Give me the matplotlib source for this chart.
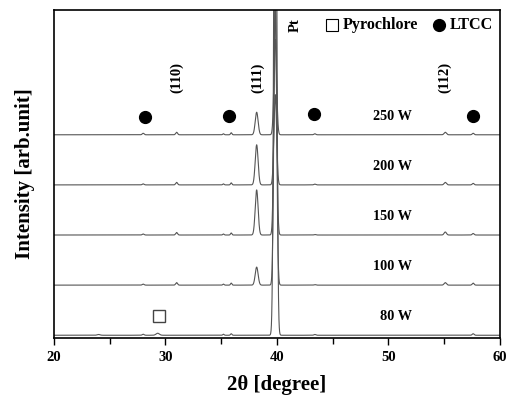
import numpy as np
import matplotlib
matplotlib.use("Agg")
import matplotlib.pyplot as plt
from matplotlib.ticker import MultipleLocator

plt.rcParams['font.family'] = ['Liberation Serif', 'DejaVu Serif']
plt.rcParams['font.weight'] = 'bold'

# ---- data ----
samples = ['80 W', '100 W', '150 W', '200 W', '250 W']
offsets = [0, 1, 2, 3, 4]
pt_pos = 39.85
pt_height = [14.0, 6.0, 4.5, 1.8, 1.9]
p111_pos = 38.18
p111_height = [0.0, 0.36, 0.9, 0.8, 0.45]
minor_pos = [24.0, 28.0, 29.3, 31.0, 35.2, 35.9, 43.4, 55.1, 57.6]
minor_height = [
    [0.015, 0.02, 0.04, 0.00, 0.02, 0.03, 0.015, 0.00, 0.03],
    [0.00, 0.02, 0.00, 0.05, 0.02, 0.04, 0.010, 0.05, 0.04],
    [0.00, 0.02, 0.00, 0.05, 0.02, 0.04, 0.010, 0.06, 0.03],
    [0.00, 0.02, 0.00, 0.05, 0.02, 0.04, 0.015, 0.05, 0.03],
    [0.00, 0.03, 0.00, 0.05, 0.02, 0.04, 0.020, 0.05, 0.03],
]
minor_width = [0.3, 0.2, 0.35, 0.2, 0.15, 0.15, 0.2, 0.25, 0.2]
ltcc_x = [28.2, 35.7, 43.35, 57.55]
ltcc_y = [4.35, 4.37, 4.41, 4.37]
pyro_x = [29.4]
pyro_y = [0.39]
hkl_labels = ['(110)', '(111)', '(112)']
hkl_x = [31.0, 38.25, 55.0]

twotheta = np.linspace(20, 60, 4001)


def gauss(x, c, h, s):
    return h * np.exp(-0.5 * ((x - c) / s) ** 2)


fig = plt.figure(figsize=(5.07, 3.95), dpi=100)
ax = fig.add_axes([0.1065, 0.1443, 0.8795, 0.8304])

for i, name in enumerate(samples):
    y = np.zeros_like(twotheta)
    y += gauss(twotheta, pt_pos, pt_height[i], 0.12)
    y += gauss(twotheta, p111_pos, p111_height[i], 0.13)
    for c, h, w in zip(minor_pos, minor_height[i], minor_width):
        y += gauss(twotheta, c, h, w / 2.355)
    ax.plot(twotheta, y + offsets[i], color='#555555', lw=0.8)
    ax.text(52.08, offsets[i] + 0.37, name, ha='right', va='center',
            fontsize=10.3, fontweight='bold')

ax.plot(ltcc_x, ltcc_y, 'o', color='black', ms=8.5, ls='none')
ax.plot(pyro_x, pyro_y, 's', mfc='white', mec='#444444', mew=1.0, ms=8, ls='none')

for lab, xx in zip(hkl_labels, hkl_x):
    ax.text(xx, 5.14, lab, rotation=90, ha='center', va='center',
            fontsize=10.5, fontweight='bold')
ax.text(41.6, 6.19, 'Pt', rotation=90, ha='center', va='center',
        fontsize=10.5, fontweight='bold')

# legend-like annotation
ax.plot([44.9], [6.19], 's', mfc='white', mec='black', mew=0.8, ms=8)
ax.text(45.92, 6.19, 'Pyrochlore', ha='left', va='center', fontsize=11.6,
        fontweight='bold')
ax.plot([54.5], [6.19], 'o', color='black', ms=8.5)
ax.text(55.5, 6.19, 'LTCC', ha='left', va='center', fontsize=11.6,
        fontweight='bold')

ax.set_xlim(20, 60)
ax.set_ylim(-0.055, 6.49)
ax.set_yticks([])
ax.xaxis.set_major_locator(MultipleLocator(10))
ax.xaxis.set_minor_locator(MultipleLocator(5))
ax.tick_params(axis='x', which='major', direction='out', length=5, width=1.0,
               labelsize=10.5, pad=4)
ax.tick_params(axis='x', which='minor', direction='out', length=4, width=1.0)
for lab in ax.get_xticklabels():
    lab.set_fontweight('bold')
for sp in ax.spines.values():
    sp.set_linewidth(1.2)

ax.set_xlabel('2θ [degree]', fontsize=15, fontweight='bold', labelpad=8)
ax.set_ylabel('Intensity [arb.unit]', fontsize=15, fontweight='bold', labelpad=14)

fig.savefig('out.png', dpi=100)
